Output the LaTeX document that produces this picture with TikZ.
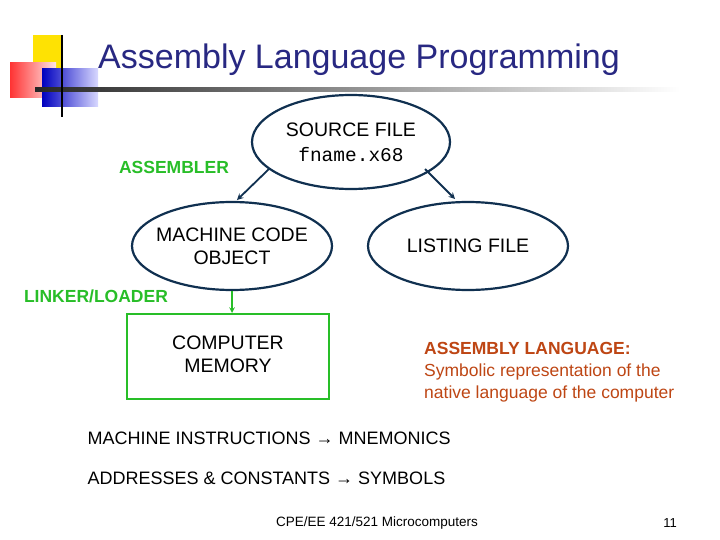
\documentclass[tikz,border=0pt]{standalone}
\usepackage{fontspec}
\setmainfont{Liberation Sans}
\setmonofont{Liberation Mono}
\usetikzlibrary{shapes.geometric}
\definecolor{navy}{RGB}{16,48,80}
\definecolor{ttl}{RGB}{40,40,130}
\definecolor{grn}{RGB}{40,190,40}
\definecolor{org}{RGB}{190,70,20}
\begin{document}
\begin{tikzpicture}[x=1pt,y=-1pt,
  ell/.style={ellipse,draw=navy,line width=2.2pt,minimum width=200pt,minimum height=88pt,align=center,font=\fontsize{19.5}{23}\selectfont,inner sep=-14pt},
  arr/.style={->,navy,line width=1.8pt,>=stealth},
  glab/.style={text=grn,font=\fontsize{17.5}{20}\selectfont\bfseries},
  body/.style={font=\fontsize{18}{21}\selectfont,anchor=west}]
\useasboundingbox (0,0) rectangle (720,540);
\fill[white] (0,0) rectangle (720,540);
% logo
\fill[yellow!85!orange] (33,35) rectangle (62,70);
\shade[left color=red!80, right color=red!10] (10,63) rectangle (56,98);
\shade[left color=blue!75!black, right color=blue!15] (42,69) rectangle (98,107);
\shade[left color=black!85, right color=white] (35,88) rectangle (680,92);
\draw[black,line width=1.5pt] (62,35) -- (62,117);
\node[text=ttl,font=\fontsize{34}{38}\selectfont,anchor=west,inner sep=0pt] (title) at (98,60) {Assembly Language Programming};
% ellipses
\node[ell,minimum width=198pt,minimum height=94pt] (src) at (351,142) {SOURCE FILE\\[2pt]\texttt{fname.x68}};
\node[ell] (mco) at (232,246) {MACHINE CODE\\OBJECT};
\node[ell] (lst) at (468,246) {LISTING FILE};
\node[draw=grn,line width=2pt,minimum width=202pt,minimum height=85pt,anchor=north] (mem) at (228,313) {};
\node[align=center,font=\fontsize{19.5}{23}\selectfont,anchor=north] (memt) at (228,332) {COMPUTER\\MEMORY};
\coordinate (s1) at (269,169);
\coordinate (s2) at (425,169);
\coordinate (e1) at (237,200);
\coordinate (e2) at (455,199);
\draw[arr] (s1) -- (e1);
\draw[arr] (s2) -- (e2);
\draw[->,grn,line width=1.5pt,>=stealth] (mco.south) -- (mco.south|-mem.north);
\node[glab] (asm) at (174,167) {ASSEMBLER};
\node[glab] (lnk) at (96,296) {LINKER/LOADER};
\node[anchor=north west,align=left,text=org,font=\fontsize{17.5}{22}\selectfont,inner sep=0pt] (def) at (424,342) {\textbf{ASSEMBLY LANGUAGE:}\\Symbolic representation of the\\native language of the computer};
\node[body] (mi) at (84,438) {MACHINE INSTRUCTIONS \textrightarrow\ MNEMONICS};
\node[body] (ad) at (84,478) {ADDRESSES \& CONSTANTS \textrightarrow\ SYMBOLS};
\node[font=\fontsize{13.5}{16}\selectfont] (ft) at (377,523) {CPE/EE 421/521 Microcomputers};
\node[font=\fontsize{13}{15}\selectfont] (pg) at (670,523) {11};
\end{tikzpicture}
\end{document}
